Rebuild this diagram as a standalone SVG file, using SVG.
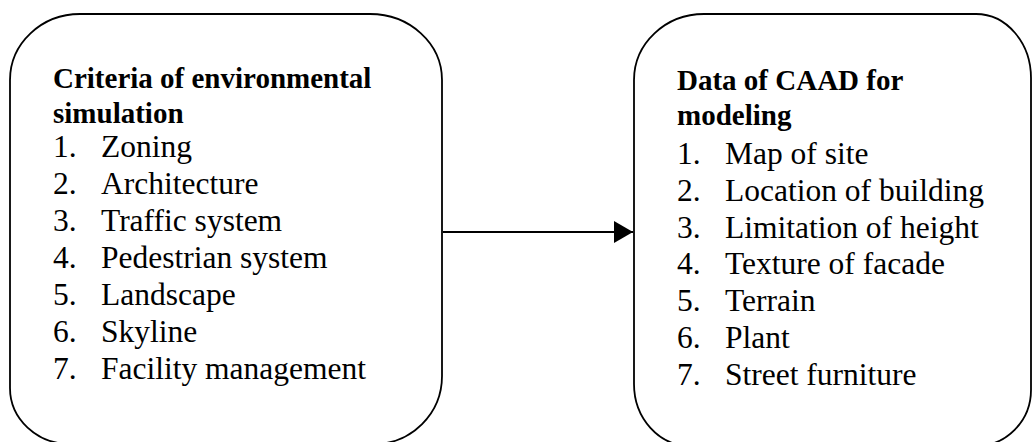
<svg xmlns="http://www.w3.org/2000/svg" width="1033" height="442" viewBox="0 0 1033 442">
<style>
.box{fill:none;stroke:#000;stroke-width:1.8}
.t{font-family:"Liberation Serif","Times New Roman",serif;fill:#000}
.h{font-weight:bold;font-size:29px}
.i{font-size:31.5px}
.conn{stroke:#000;stroke-width:1.8;fill:none}
</style>
<defs>
<marker id="ah" markerWidth="20" markerHeight="22" refX="19" refY="11" orient="auto" markerUnits="userSpaceOnUse">
<polygon points="0,0 19,11 0,22" fill="#000"/>
</marker>
</defs>
<g id="node-criteria">
<path class="box" d="M80,14 L370,14 A72,66 0 0 1 442,80 L442,376 A68,68 0 0 1 374,444 L70,444 A60,56 0 0 1 10,388 L10,80 A70,66 0 0 1 80,14 Z"/>
<text class="t h" x="53" y="88">Criteria of environmental</text>
<text class="t h" x="53" y="123">simulation</text>
<g class="t i">
<text x="53" y="157">1.</text><text x="101" y="157">Zoning</text>
<text x="53" y="194">2.</text><text x="101" y="194">Architecture</text>
<text x="53" y="231">3.</text><text x="101" y="231">Traffic system</text>
<text x="53" y="268">4.</text><text x="101" y="268">Pedestrian system</text>
<text x="53" y="305">5.</text><text x="101" y="305">Landscape</text>
<text x="53" y="342">6.</text><text x="101" y="342">Skyline</text>
<text x="53" y="379">7.</text><text x="101" y="379">Facility management</text>
</g>
</g>
<g id="node-data">
<path class="box" d="M704,14 L976,14 A55,64 0 0 1 1031,78 L1031,390 A55,56 0 0 1 976,446 L690,446 A56,62 0 0 1 634,384 L634,80 A70,66 0 0 1 704,14 Z"/>
<text class="t h" x="677" y="90">Data of CAAD for</text>
<text class="t h" x="677" y="125">modeling</text>
<g class="t i">
<text x="677" y="164">1.</text><text x="725" y="164">Map of site</text>
<text x="677" y="201">2.</text><text x="725" y="201">Location of building</text>
<text x="677" y="238">3.</text><text x="725" y="238">Limitation of height</text>
<text x="677" y="274">4.</text><text x="725" y="274">Texture of facade</text>
<text x="677" y="311">5.</text><text x="725" y="311">Terrain</text>
<text x="677" y="348">6.</text><text x="725" y="348">Plant</text>
<text x="677" y="385">7.</text><text x="725" y="385">Street furniture</text>
</g>
</g>
<g id="connectors">
<line class="conn" x1="443" y1="232" x2="633" y2="232" marker-end="url(#ah)"/>
</g>
</svg>
